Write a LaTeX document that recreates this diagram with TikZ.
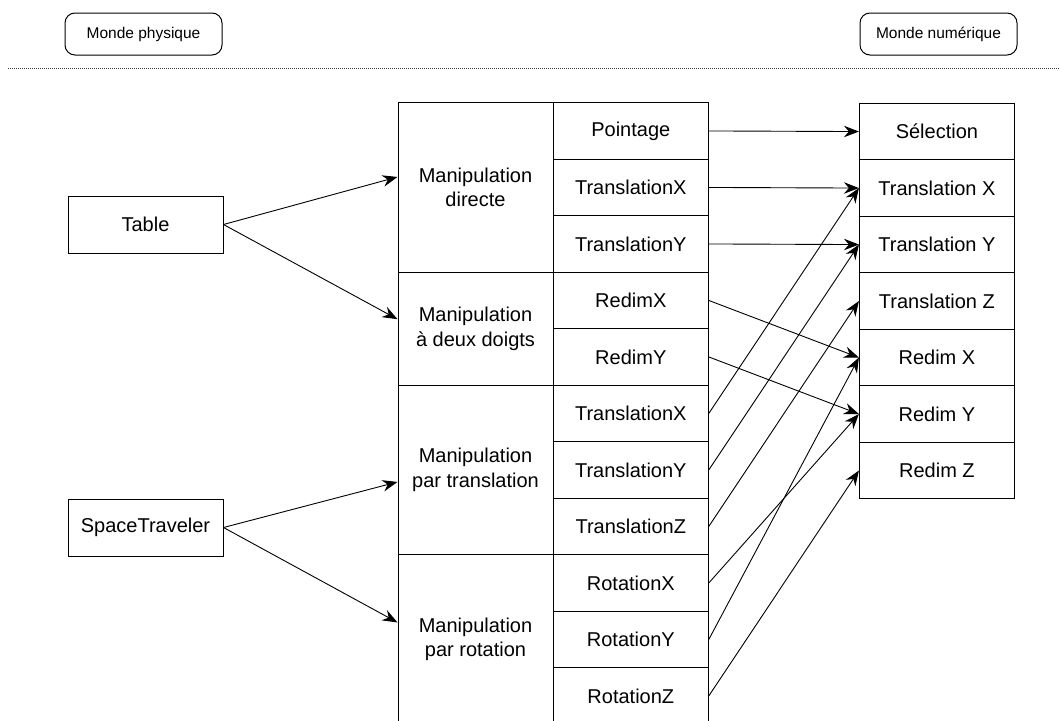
\documentclass[tikz,border=0pt]{standalone}
\usepackage{fontspec}
\setmainfont{Liberation Sans}
\usetikzlibrary{arrows.meta}

\tikzset{
  cell/.style={draw, line width=1pt, minimum width=155pt, minimum height=56.5pt,
    inner sep=0pt, align=center, font=\fontsize{20}{24.5}\selectfont},
  group/.style={cell, minimum height=#1},
  world/.style={draw, line width=1pt, rounded corners=10pt, minimum width=157pt,
    minimum height=42pt, inner sep=0pt, font=\fontsize{15.5}{18}\selectfont},
  link/.style={line width=0.9pt, -{Stealth[length=15pt,width=11.5pt,inset=5pt]}},
}

\begin{document}
\begin{tikzpicture}[x=1pt,y=-1pt]
  \useasboundingbox (0,0) rectangle (1059,720);
  \clip (0,0) rectangle (1059,720);

  % the two worlds
  \node[world] (phys) at (143.5,34) {Monde physique};
  \node[world] (num) at (938.5,34) {Monde numérique};
  \draw[line width=0.8pt, black!75, dash pattern=on 1pt off 1pt] (8,68.5) -- (1059,68.5);

  % devices
  \node[cell, minimum height=57pt] (tab) at (145.5,224.5) {Table};
  \node[cell, minimum height=57pt] (st) at (145.5,527.5) {SpaceTraveler};

  % interaction techniques
  \node[group=169.5pt] (md) at (475.5,187.45) {Manipulation\\directe};
  \node[group=113pt] (mdd) at (475.5,328.7) {Manipulation\\à deux doigts};
  \node[group=169.5pt] (mt) at (475.5,469.95) {Manipulation\\par translation};
  \node[group=169.5pt] (mr) at (475.5,639.45) {Manipulation\\par rotation};

  \node[cell] (pt) at (630.8,130.95) {Pointage};
  \node[cell] (tx1) at (630.8,187.45) {TranslationX};
  \node[cell] (ty1) at (630.8,243.95) {TranslationY};
  \node[cell] (rx) at (630.8,300.45) {RedimX};
  \node[cell] (ry) at (630.8,356.95) {RedimY};
  \node[cell] (tx2) at (630.8,413.45) {TranslationX};
  \node[cell] (ty2) at (630.8,469.95) {TranslationY};
  \node[cell] (tz) at (630.8,526.45) {TranslationZ};
  \node[cell] (rotx) at (630.8,582.95) {RotationX};
  \node[cell] (roty) at (630.8,639.45) {RotationY};
  \node[cell] (rotz) at (630.8,695.95) {RotationZ};

  % tasks
  \node[cell] (sel) at (936.9,131.55) {Sélection};
  \node[cell] (ttx) at (936.9,188.05) {Translation X};
  \node[cell] (tty) at (936.9,244.55) {Translation Y};
  \node[cell] (ttz) at (936.9,301.05) {Translation Z};
  \node[cell] (rdx) at (936.9,357.55) {Redim X};
  \node[cell] (rdy) at (936.9,414.05) {Redim Y};
  \node[cell] (rdz) at (936.9,470.55) {Redim Z};

  % devices -> techniques
  \draw[link] (tab.east) -- ([yshift=10.5pt]md.west);
  \draw[link] (tab.east) -- ([yshift=9.5pt]mdd.west);
  \draw[link] (st.east) -- ([yshift=-12pt]mt.west);
  \draw[link] (st.east) -- ([yshift=17pt]mr.west);

  % techniques -> tasks
  \draw[link] (pt.east) -- (sel.west);
  \draw[link] (tx1.east) -- (ttx.west);
  \draw[link] (ty1.east) -- (tty.west);
  \draw[link] (rx.east) -- (rdx.west);
  \draw[link] (ry.east) -- (rdy.west);
  \draw[link] (tx2.east) -- (ttx.west);
  \draw[link] (ty2.east) -- (tty.west);
  \draw[link] (tz.east) -- (ttz.west);
  \draw[link] (rotx.east) -- (rdy.west);
  \draw[link] (roty.east) -- (rdx.west);
  \draw[link] (rotz.east) -- (rdz.west);
\end{tikzpicture}
\end{document}
